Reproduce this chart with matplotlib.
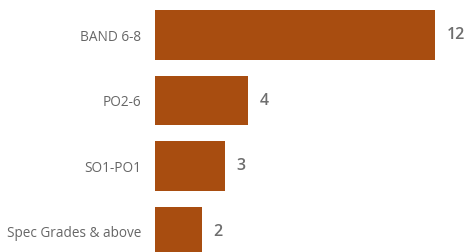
import matplotlib.pyplot as plt

categories = ["BAND 6-8", "PO2-6", "SO1-PO1", "Spec Grades & above"]
counts = [12, 4, 3, 2]

plt.rcParams["font.family"] = ["Open Sans", "DejaVu Sans"]


def main():
    fig = plt.figure(figsize=(4.67, 2.52), dpi=100)
    ax = fig.add_axes([155 / 467, 0, 312 / 467, 1])
    pos = list(range(len(categories)))
    bars = ax.barh(pos, counts, height=0.763, color="#A84D10")
    ax.set_xlim(0, 312 / 23.33)
    ax.set_ylim(252 / 65.5 - 35 / 65.5, -35 / 65.5)
    ax.set_yticks(pos)
    ax.set_yticklabels(categories, fontsize=9.8, color="#666666")
    ax.tick_params(axis="y", length=0, pad=10)
    ax.set_xticks([])
    for s in ax.spines.values():
        s.set_visible(False)
    for b, v in zip(bars, counts):
        ax.annotate(str(v), (b.get_width(), b.get_y() + b.get_height() / 2),
                    xytext=(8.5, 0), textcoords="offset points",
                    va="center", ha="left", fontsize=11.5,
                    fontweight="semibold", color="#6e6e6e")
    fig.savefig("out.png", dpi=100)


if __name__ == "__main__":
    main()
